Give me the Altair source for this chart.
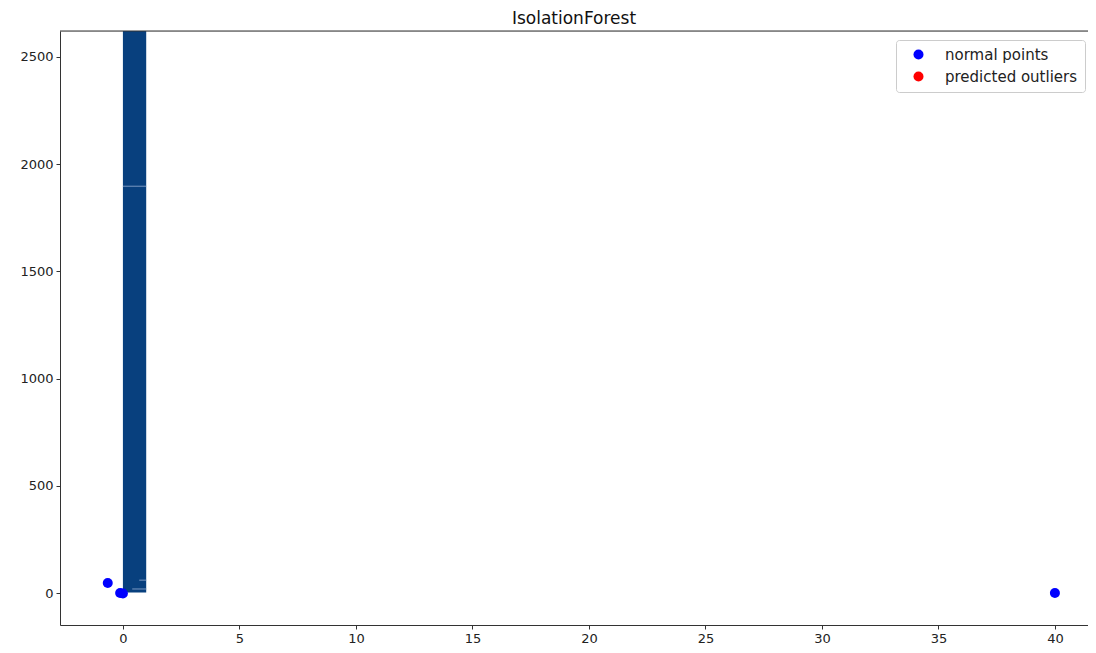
import altair as alt
import pandas as pd

# data
pts_x = [-0.65, -0.12, 0.0, 40.0]
pts_y = [47, 0, -2, 0]
pts_cat = ["normal points", "normal points", "normal points", "normal points"]

band_x = [0.0]
band_x2 = [1.0]
band_y = [3]
band_y2 = [2621]

streak_y = [1897, 60, 19]
streak_x = [0.0, 0.7, 0.4]
streak_x2 = [1.0, 1.0, 1.0]

legend_cats = ["normal points", "predicted outliers"]
legend_colors = ["#0000ff", "#ff0000"]

x_ticks = [0, 5, 10, 15, 20, 25, 30, 35, 40]
y_ticks = [0, 500, 1000, 1500, 2000, 2500]

W, H = 1028, 594
x_dom = [-2.70, 41.42]
y_dom = [-149, 2621]

xs = alt.Scale(domain=x_dom, nice=False, zero=False)
ys = alt.Scale(domain=y_dom, nice=False, zero=False)

band = pd.DataFrame({"x": band_x, "x2": band_x2, "y": band_y, "y2": band_y2})
streaks = pd.DataFrame({"x": streak_x, "x2": streak_x2, "y": streak_y})
pts = pd.DataFrame({"x": pts_x, "y": pts_y, "cat": pts_cat})

xaxis = alt.Axis(values=x_ticks, title=None, grid=False, labelFontSize=13,
                 labelColor="#222", domainColor="#333", tickColor="#333",
                 tickSize=4, labelPadding=3, format="d")
yaxis = alt.Axis(values=y_ticks, title=None, grid=False, labelFontSize=13,
                 labelColor="#222", domainColor="#333", tickColor="#333",
                 tickSize=4, labelPadding=3, format="d")

band_layer = alt.Chart(band).mark_rect(color="#08407e").encode(
    x=alt.X("x:Q", scale=xs, axis=xaxis), x2="x2:Q",
    y=alt.Y("y:Q", scale=ys, axis=yaxis), y2="y2:Q")

streak_layer = alt.Chart(streaks).mark_rule(color="#7f9cc6", strokeWidth=1.2, opacity=0.8).encode(
    x=alt.X("x:Q", scale=xs), x2="x2:Q", y=alt.Y("y:Q", scale=ys))

pt_layer = alt.Chart(pts).mark_circle(size=100, opacity=1).encode(
    x=alt.X("x:Q", scale=xs),
    y=alt.Y("y:Q", scale=ys),
    color=alt.Color("cat:N", scale=alt.Scale(domain=legend_cats, range=legend_colors),
                    legend=alt.Legend(title=None, orient="none", legendX=836, legendY=9,
                                      symbolType="circle", symbolSize=100,
                                      labelFontSize=15, labelColor="#222",
                                      strokeColor="#ccc", padding=7, cornerRadius=3,
                                      fillColor="white", labelOffset=19,
                                      symbolOffset=8, labelLimit=300,
                                      rowPadding=6, symbolOpacity=1)))

top_spine = alt.Chart(pd.DataFrame({"a": [0]})).mark_rule(color="#333").encode(
    x=alt.value(0), x2=alt.value(W), y=alt.value(0))

chart = alt.layer(band_layer, streak_layer, pt_layer, top_spine).properties(
    width=W, height=H,
    title=alt.TitleParams("IsolationForest", fontSize=17, fontWeight="normal",
                          color="#111", offset=3),
    autosize=alt.AutoSizeParams(type="none"),
    padding={"left": 52, "top": 23, "right": 0, "bottom": 28},
).configure_view(stroke=None).configure(font="DejaVu Sans")

chart.save("out.html", embed_options={"renderer": "svg", "actions": False})
